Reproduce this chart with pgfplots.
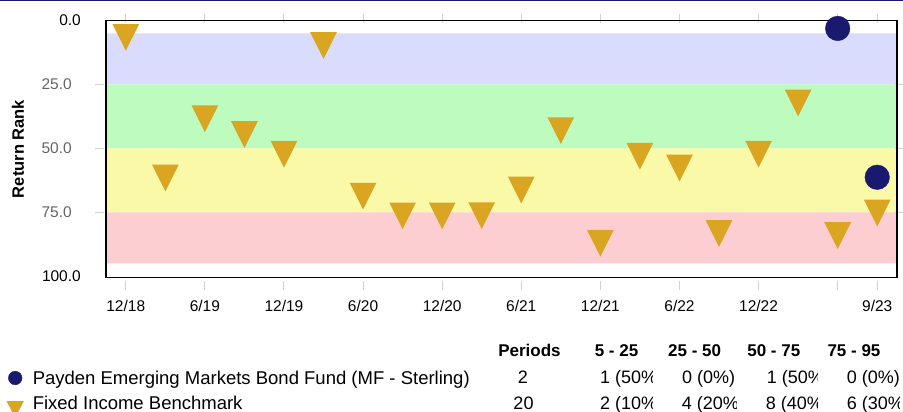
\documentclass[border=0pt]{standalone}
\usepackage{pgfplots}
\pgfplotsset{compat=1.18}
\usepackage{fontspec}
\setmainfont{Liberation Sans}
\usepackage{graphicx}
\definecolor{navy}{RGB}{25,25,112}
\definecolor{gold}{RGB}{218,165,32}
\definecolor{bandblue}{RGB}{217,220,252}
\definecolor{bandgreen}{RGB}{190,251,190}
\definecolor{bandyellow}{RGB}{249,249,168}
\definecolor{bandred}{RGB}{252,206,210}
\definecolor{tickgray}{RGB}{210,210,210}
\definecolor{labgray}{RGB}{100,100,100}
\pgfdeclareplotmark{dtri}{%
  \pgfpathmoveto{\pgfpoint{-13.35pt}{13.35pt}}%
  \pgfpathlineto{\pgfpoint{13.35pt}{13.35pt}}%
  \pgfpathlineto{\pgfpoint{0pt}{-13.35pt}}%
  \pgfpathclose\pgfusepathqfill}
\pgfplotstableread{
x y
0 6.6
1 61.6
2 38.4
3 44.6
4 52.3
5 9.8
6 68.7
7 76.4
8 76.4
9 76.3
10 66.3
11 43.1
12 87.1
13 53.1
14 57.7
15 83.3
16 52.3
17 32.3
18 84.1
19 75.3
}\bench
\pgfplotstableread{
x y
18 3.1
19 61.3
}\fund
\newcommand{\tf}{\fontsize{15.5}{16}\selectfont}
\newcommand{\lf}{\fontsize{18.5}{20}\selectfont}
\newcommand{\nf}{\fontsize{18}{20}\selectfont}
\begin{document}
\begin{tikzpicture}
\useasboundingbox (0,0) rectangle (903pt,412pt);
\fill[white] (0,0) rectangle (903pt,412pt);
\draw[navy, line width=2pt] (0,412pt) -- (903pt,412pt);
\begin{axis}[
  at={(106pt,134.5pt)}, anchor=south west,
  scale only axis, width=791pt, height=257pt,
  xmin=-0.5, xmax=19.5, ymin=0, ymax=100.5, y dir=reverse,
  axis line style={black, line width=1.3pt},
  axis on top,
  xtick={0,2,4,6,8,10,12,14,16,18,19},
  xticklabels={12/18,6/19,12/19,6/20,12/20,6/21,12/21,6/22,12/22,,9/23},
  ytick={25,50,75},
  yticklabels={\textcolor{labgray}{25.0},\textcolor{labgray}{50.0},\textcolor{labgray}{75.0}},
  extra y ticks={0,100},
  extra y tick labels={0.0,100.0},
  extra y tick style={major tick length=0pt},
  tick align=outside,
  major tick length=9pt,
  every tick/.style={tickgray, line width=1pt},
  xtick style={yshift=-3pt},
  ytick style={xshift=-2pt},
  tick label style={font=\tf, inner sep=0pt},
  yticklabel style={anchor=east, xshift=-25pt},
  xticklabel style={anchor=north, yshift=-14pt},
  /pgf/number format/assume math mode=true,
  ylabel={\textbf{Return Rank}},
  every axis y label/.style={at={(axis description cs:-0.1113,0.5)}, rotate=90, anchor=center, font=\fontsize{16.5}{17}\selectfont},
  legend style={at={(axis description cs:-0.1256,-0.5331)}, anchor=south west,
    draw=none, fill=none, inner sep=0pt, outer sep=0pt, row sep=5pt, column sep=9pt,
    nodes={inner sep=0pt, text height=15pt, text depth=5pt, font=\lf}},
  legend cell align=left,
  clip=false,
]
\addplot[draw=none, fill=bandblue, forget plot] coordinates {(-0.5,5) (19.5,5) (19.5,25) (-0.5,25) (-0.5,5)};
\addplot[draw=none, fill=bandgreen, forget plot] coordinates {(-0.5,25) (19.5,25) (19.5,50) (-0.5,50) (-0.5,25)};
\addplot[draw=none, fill=bandyellow, forget plot] coordinates {(-0.5,50) (19.5,50) (19.5,75) (-0.5,75) (-0.5,50)};
\addplot[draw=none, fill=bandred, forget plot] coordinates {(-0.5,75) (19.5,75) (19.5,95) (-0.5,95) (-0.5,75)};
\addplot[only marks, mark=*, mark size=12.3pt, navy, mark options={draw=none, fill=navy},
  legend image code/.code={\path (-8.35pt,0pt) (8.35pt,0pt); \fill[navy, overlay] (0pt,1.5pt) circle (6.8pt);}] table {\fund};
\addlegendentry{Payden Emerging Markets Bond Fund (MF - Sterling)}
\addplot[only marks, mark=dtri, gold, mark options={draw=none, fill=gold},
  legend image code/.code={\path (-8.35pt,0pt) (8.35pt,0pt); \fill[gold, overlay] (-8.35pt,3.3pt) -- (8.35pt,3.3pt) -- (0pt,-12.7pt) -- cycle;}] table {\bench};
\addlegendentry{Fixed Income Benchmark}
\end{axis}
% summary table
\begin{scope}[every node/.style={anchor=base, inner sep=0pt, font=\fontsize{17}{18}\selectfont\bfseries}]
\node at (529.5pt,55.3pt) {Periods};
\node at (616.5pt,55.3pt) {5 - 25};
\node at (694.7pt,55.3pt) {25 - 50};
\node at (773.8pt,55.3pt) {50 - 75};
\node at (854pt,55.3pt) {75 - 95};
\end{scope}
\begin{scope}[every node/.style={anchor=base, inner sep=0pt, font=\nf}]
\node at (523pt,28pt) {2};
\node at (523.5pt,2.8pt) {20};
\end{scope}
\begin{scope}[every node/.style={anchor=base west, inner sep=0pt, font=\nf}]
\begin{scope}\clip (0,0) rectangle (652pt,412pt);
\node at (600pt,28pt) {1 (50\%)};
\node at (600pt,2.8pt) {2 (10\%)};
\end{scope}
\begin{scope}\clip (0,0) rectangle (736pt,412pt);
\node at (682pt,28pt) {0 (0\%)};
\node at (681.7pt,2.8pt) {4 (20\%)};
\end{scope}
\begin{scope}\clip (0,0) rectangle (817pt,412pt);
\node at (766.7pt,28pt) {1 (50\%)};
\node at (765.7pt,2.8pt) {8 (40\%)};
\end{scope}
\begin{scope}\clip (0,0) rectangle (899pt,412pt);
\node at (846.7pt,28pt) {0 (0\%)};
\node at (846.7pt,2.8pt) {6 (30\%)};
\end{scope}
\end{scope}
\end{tikzpicture}
\end{document}
